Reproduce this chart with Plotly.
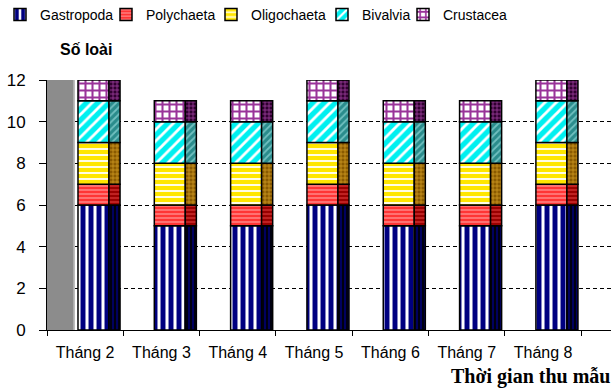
import numpy as np
import plotly.graph_objects as go

categories = ["Tháng 2", "Tháng 3", "Tháng 4", "Tháng 5", "Tháng 6", "Tháng 7", "Tháng 8"]
gastropoda = [6, 5, 5, 6, 5, 5, 6]
polychaeta = [1, 1, 1, 1, 1, 1, 1]
oligochaeta = [2, 2, 2, 2, 2, 2, 2]
bivalvia = [2, 2, 2, 2, 2, 2, 2]
crustacea = [1, 1, 1, 1, 1, 1, 1]
y_ticks = [0, 2, 4, 6, 8, 10, 12]

series = [
    ("Gastropoda", gastropoda),
    ("Polychaeta", polychaeta),
    ("Oligochaeta", oligochaeta),
    ("Bivalvia", bivalvia),
    ("Crustacea", crustacea),
]

# style: (front bg, front fg, front shape, size, solidity, side bg, side fg, side shape, side size)
styles = {
    "Gastropoda": ("#ffffff", "#000080", "|", 8, 0.62, "#000010", "#000080", "|", 4),
    "Polychaeta": ("#ff3535", "#ff9a9a", "-", 4, 0.3, "#990000", "#d03030", "-", 4),
    "Oligochaeta": ("#ffe600", "#ffffff", "-", 6, 0.3, "#8a5a00", "#d09a20", "+", 4),
    "Bivalvia": ("#00f0f0", "#ffffff", "/", 8, 0.35, "#2a8c8c", "#70c0c0", "/", 5),
    "Crustacea": ("#ffffff", "#993399", "+", 7, 0.5, "#300030", "#a040a0", "+", 4),
}

legend_text_x = [37, 146, 251, 362, 443]

fig = go.Figure()
base = np.zeros(len(categories))
for i, (name, vals) in enumerate(series):
    vals = np.array(vals, dtype=float)
    fb, ff, fs, fsz, fsol, sb, sf, ss, ssz = styles[name]
    lg = "legend" if i == 0 else f"legend{i+1}"
    fig.add_trace(go.Bar(
        x=categories, y=vals, base=base, name=name,
        offset=-0.094, width=0.406,
        marker=dict(color=fb, line=dict(color="black", width=1.5),
                    pattern=dict(shape=fs, fgcolor=ff, bgcolor=fb, size=fsz,
                                 solidity=fsol, fillmode="replace")),
        legend=lg, showlegend=True,
    ))
    fig.add_trace(go.Bar(
        x=categories, y=vals, base=base, name=name,
        offset=0.312, width=0.145,
        marker=dict(color=sb, line=dict(color="black", width=1.5),
                    pattern=dict(shape=ss, fgcolor=sf, bgcolor=sb, size=ssz,
                                 solidity=0.35, fillmode="replace")),
        showlegend=False,
    ))
    base = base + vals

W, H = 611, 392
layout_legends = {}
for i, tx in enumerate(legend_text_x):
    key = "legend" if i == 0 else f"legend{i+1}"
    layout_legends[key] = dict(
        x=(tx - 40) / W, y=1 - 15 / H, xref="container", yref="container",
        xanchor="left", yanchor="middle", orientation="h",
        bgcolor="rgba(0,0,0,0)", borderwidth=0,
        font=dict(family="Arial, Liberation Sans, sans-serif", size=14, color="black"),
        itemwidth=30,
    )

fig.update_layout(
    width=W, height=H,
    margin=dict(l=47, r=0, t=80, b=62),
    paper_bgcolor="white", plot_bgcolor="white",
    barmode="overlay",
    **layout_legends,
    xaxis=dict(
        type="category", range=[-0.5, 6.89],
        showline=True, linecolor="black", linewidth=1,
        ticks="outside", tickson="boundaries", ticklen=5, tickcolor="black",
        showgrid=False,
        tickfont=dict(family="Arial, Liberation Sans, sans-serif", size=16, color="black"),
        ticklabelstandoff=8,
    ),
    yaxis=dict(
        range=[0, 12], tickvals=y_ticks,
        showline=True, linecolor="black", linewidth=1,
        ticks="outside", ticklen=7, tickcolor="black",
        showgrid=True, gridcolor="black", gridwidth=1, griddash="4px,3px",
        zeroline=False,
        tickfont=dict(family="Arial, Liberation Sans, sans-serif", size=17, color="black"),
        ticklabelstandoff=10,
    ),
    shapes=[
        dict(type="rect", xref="x", yref="y", x0=-0.5, x1=-0.133, y0=0, y1=12,
             fillcolor="#8c8c8c", line=dict(width=0), layer="between"),
        dict(type="rect", xref="x", yref="y", x0=-0.155, x1=-0.133, y0=0, y1=12,
             fillcolor="#bdbdbd", line=dict(width=0), layer="between"),
    ],
    annotations=[
        dict(text="<b>Số loài</b>", xref="paper", yref="paper",
             x=(58 - 47) / (W - 47), y=1 + 30 / 250, xanchor="left", yanchor="middle",
             showarrow=False,
             font=dict(family="Arial, Liberation Sans, sans-serif", size=16, color="black")),
        dict(text="<b>Thời gian thu mẫu</b>", xref="paper", yref="paper",
             x=(449 - 47) / (W - 47), y=-46 / 250, xanchor="left", yanchor="middle",
             showarrow=False,
             font=dict(family="Times New Roman, Liberation Serif, serif", size=20, color="black")),
    ],
)

fig.write_html("out.html")
